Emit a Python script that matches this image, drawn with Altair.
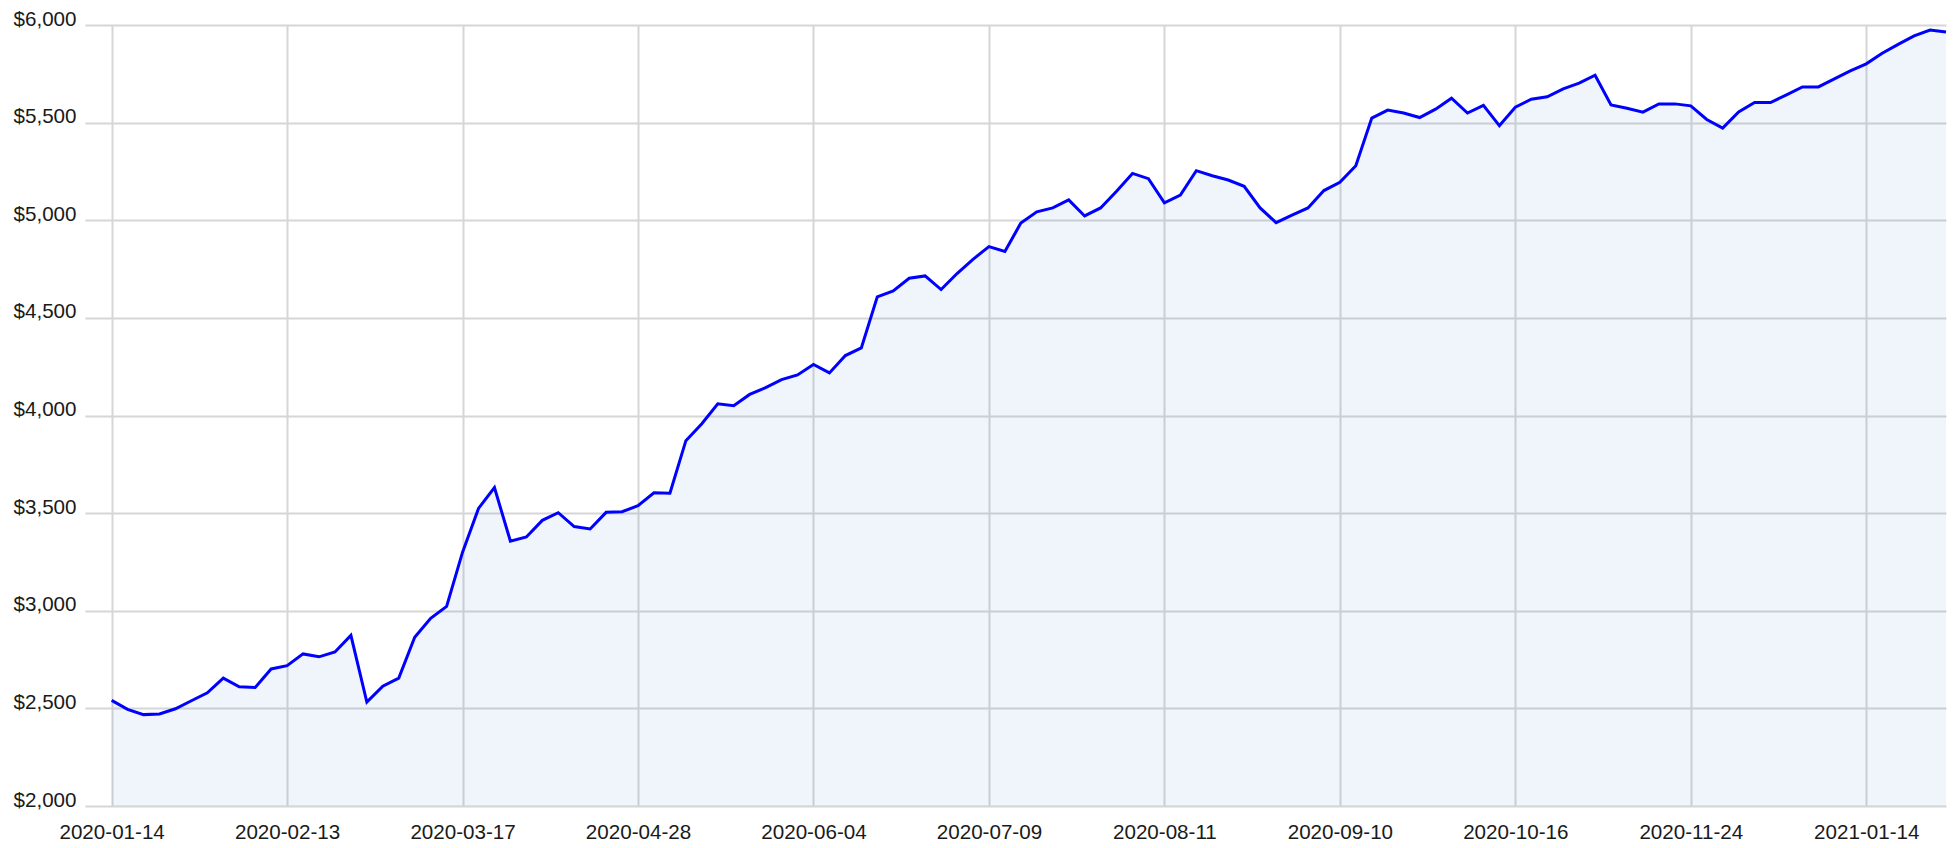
import json
import altair as alt
import pandas as pd

# x-axis tick labels (one every 11 points)
tick_labels = ["2020-01-14", "2020-02-13", "2020-03-17", "2020-04-28", "2020-06-04",
               "2020-07-09", "2020-08-11", "2020-09-10", "2020-10-16", "2020-11-24",
               "2021-01-14"]
label_step = 11

# series values (USD)
values = [
    2541, 2495, 2468, 2471, 2498, 2539, 2580, 2655, 2611, 2607,
    2702, 2719, 2779, 2764, 2789, 2874, 2532, 2614, 2655, 2864,
    2961, 3022, 3300, 3524, 3631, 3356, 3378, 3463, 3502, 3431,
    3419, 3504, 3507, 3538, 3604, 3602, 3871, 3958, 4060, 4050,
    4108, 4143, 4184, 4208, 4261, 4218, 4307, 4346, 4608, 4638,
    4703, 4715, 4645, 4727, 4800, 4865, 4840, 4986, 5043, 5063,
    5104, 5022, 5063, 5148, 5240, 5213, 5089, 5129, 5254, 5228,
    5206, 5174, 5063, 4988, 5026, 5063, 5152, 5194, 5279, 5523,
    5564, 5549, 5526, 5569, 5625, 5549, 5588, 5484, 5579, 5620,
    5632, 5673, 5702, 5743, 5591, 5574, 5554, 5596, 5596, 5586,
    5516, 5472, 5555, 5603, 5603, 5642, 5683, 5683, 5724, 5765,
    5801, 5855, 5901, 5944, 5974, 5964,
]

y_ticks = [2000, 2500, 3000, 3500, 4000, 4500, 5000, 5500, 6000]

df = pd.DataFrame({"idx": list(range(len(values))), "value": values})

FONT = "Liberation Sans"
label_expr = json.dumps(tick_labels) + "[round(datum.value / %d)]" % label_step

x_enc = alt.X(
    "idx:Q",
    scale=alt.Scale(domain=[-1.67, len(values) - 1], nice=False, zero=False),
    axis=alt.Axis(
        values=[i * label_step for i in range(len(tick_labels))],
        labelExpr=label_expr,
        title=None, domain=False, ticks=False, labelPadding=16,
        labelFont=FONT, labelFontSize=20.6, labelColor="#1a1a1a",
        grid=True, gridColor="#d6d6d6", gridWidth=2,
        labelAlign="center", labelBaseline="top",
    ),
)
y_enc = alt.Y(
    "value:Q",
    scale=alt.Scale(domain=[2000, 6000], nice=False, zero=False),
    axis=alt.Axis(
        values=y_ticks, format="$,.0f",
        title=None, domain=False, ticks=False, labelPadding=9,
        labelFont=FONT, labelFontSize=20.6, labelColor="#1a1a1a",
        grid=True, gridColor="#d6d6d6", gridWidth=2,
        labelBaseline="alphabetic",
    ),
)

area = alt.Chart(df).mark_area(color="#1e78c8", opacity=0.07).encode(
    x=x_enc, y=y_enc, y2=alt.datum(2000)
)
line = alt.Chart(df).mark_line(color="#0000ff", strokeWidth=3).encode(
    x=x_enc, y=y_enc
)

chart = (
    alt.layer(area, line)
    .properties(
        width=1861, height=781,
        autosize=alt.AutoSizeParams(type="none"),
        padding={"left": 77, "top": 17, "right": 2, "bottom": 36},
    )
    .configure_view(stroke=None)
)

chart.save("out.html", embed_options={"renderer": "svg", "actions": False})
